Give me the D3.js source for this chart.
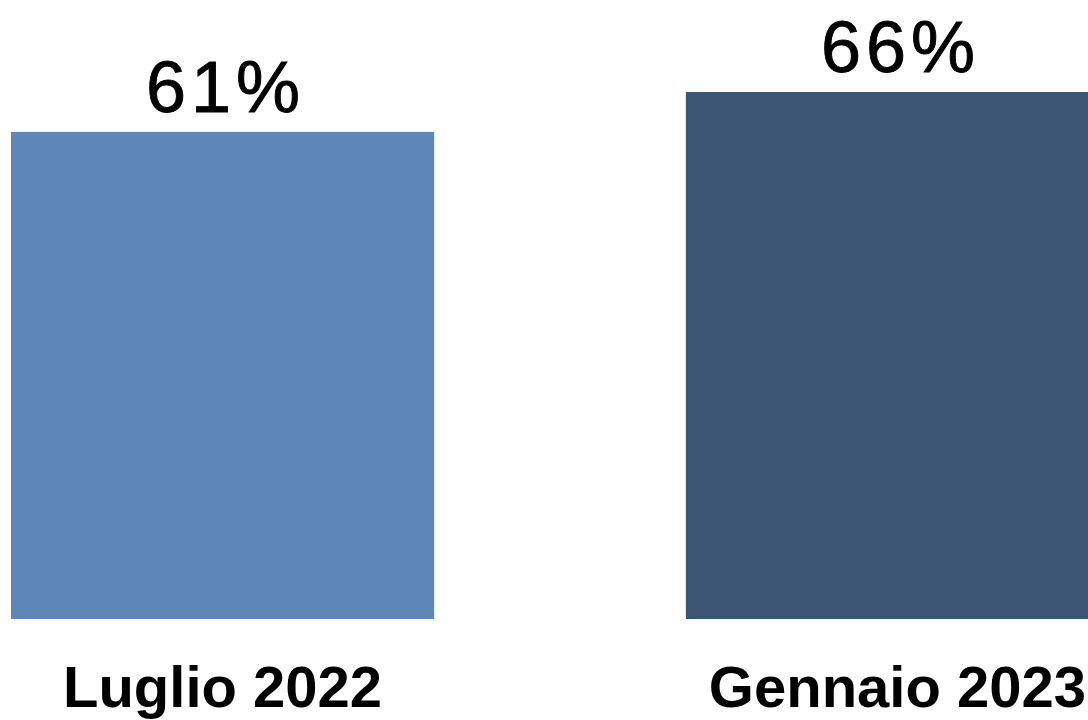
<!DOCTYPE html>
<html>
<head>
<meta charset="utf-8">
<script src="https://cdn.jsdelivr.net/npm/d3@7"></script>
<style>
  body { margin: 0; background: #fff; }
  svg { display: block; }
</style>
</head>
<body>
<script>
// data
var periods = ["Luglio 2022", "Gennaio 2023"];
var values = [61, 66];
var colors = ["#5f86b8", "#3c5574"];

var width = 1088, height = 720;

var svg = d3.select("body").append("svg")
    .attr("width", width)
    .attr("height", height);

// second bar runs off the right edge, like the original
var x = d3.scaleBand()
    .domain(periods)
    .range([11, 1109])
    .paddingInner(0.373)
    .paddingOuter(0);

var y = d3.scaleLinear()
    .domain([0, 66])
    .range([619, 92]);

var rows = periods.map(function(p, i) { return {name: p, value: values[i], color: colors[i]}; });

// bars
svg.selectAll(".bar").data(rows).enter()
    .append("rect")
    .attr("class", "bar")
    .attr("x", function(d) { return x(d.name); })
    .attr("y", function(d) { return y(d.value); })
    .attr("width", x.bandwidth())
    .attr("height", function(d) { return y(0) - y(d.value); })
    .attr("fill", function(d) { return d.color; });

// value labels above bars (slightly spaced and a bit heavier than regular)
svg.selectAll(".val").data(rows).enter()
    .append("text")
    .attr("class", "val")
    .attr("x", function(d) { return x(d.name) + x.bandwidth() / 2; })
    .attr("dx", 3)
    .attr("y", function(d) { return y(d.value) - 20; })
    .attr("text-anchor", "middle")
    .attr("font-family", "'Liberation Sans', Arial, sans-serif")
    .attr("font-size", 72)
    .attr("letter-spacing", 5)
    .attr("fill", "#000")
    .attr("stroke", "#000")
    .attr("stroke-width", 0.9)
    .text(function(d) { return d.value + "%"; });

// category labels under bars
svg.selectAll(".cat").data(rows).enter()
    .append("text")
    .attr("class", "cat")
    .attr("x", function(d) { return x(d.name) + x.bandwidth() / 2; })
    .attr("y", 707)
    .attr("text-anchor", "middle")
    .attr("font-family", "'Liberation Sans', Arial, sans-serif")
    .attr("font-weight", "bold")
    .attr("font-size", 58)
    .attr("fill", "#000")
    .text(function(d) { return d.name; });
</script>
</body>
</html>
